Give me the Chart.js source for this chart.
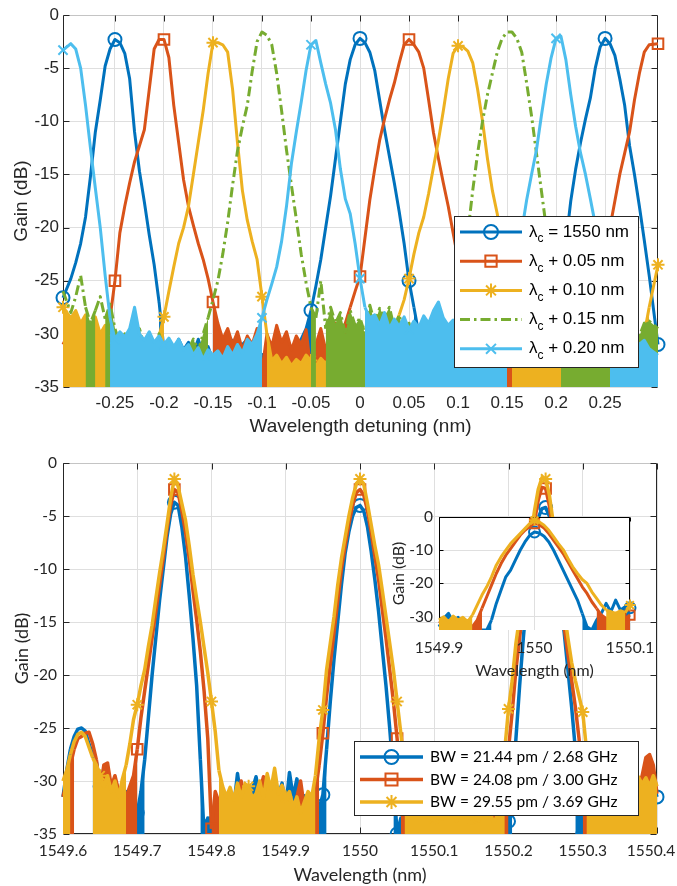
<!DOCTYPE html>
<html>
<head>
<meta charset="utf-8">
<script src="https://cdn.jsdelivr.net/npm/chart.js@4.4.1/dist/chart.umd.min.js"></script>
<style>
  html, body { margin: 0; padding: 0; background: #fff; }
  #wrap { position: relative; width: 677px; height: 886px; overflow: hidden; }
  canvas { position: absolute; }
</style>
</head>
<body>
<div id="wrap">
  <canvas id="topChart" width="677" height="445" style="left:0;top:0"></canvas>
  <canvas id="bottomChart" width="677" height="441" style="left:0;top:445px"></canvas>
  <canvas id="insetChart" width="295" height="190" style="left:380px;top:500px"></canvas>
</div>
<script>
// ---- top panel: gain vs detuning for 5 centre wavelengths ----
const detuning = [
  -0.303, -0.295, -0.29, -0.285, -0.28, -0.275, -0.27, -0.265, -0.26, -0.255,
  -0.25, -0.245, -0.24, -0.235, -0.23, -0.225, -0.22, -0.215, -0.21, -0.205,
  -0.2, -0.195, -0.19, -0.185, -0.18, -0.175, -0.17, -0.165, -0.16, -0.155,
  -0.15, -0.145, -0.14, -0.135, -0.13, -0.125, -0.12, -0.115, -0.11, -0.105,
  -0.1, -0.095, -0.09, -0.085, -0.08, -0.075, -0.07, -0.065, -0.06, -0.055,
  -0.05, -0.045, -0.04, -0.035, -0.03, -0.025, -0.02, -0.015, -0.01, -0.005,
  0, 0.005, 0.01, 0.015, 0.02, 0.025, 0.03, 0.035, 0.04, 0.045,
  0.05, 0.055, 0.06, 0.065, 0.07, 0.075, 0.08, 0.085, 0.09, 0.095,
  0.1, 0.105, 0.11, 0.115, 0.12, 0.125, 0.13, 0.135, 0.14, 0.145,
  0.15, 0.155, 0.16, 0.165, 0.17, 0.175, 0.18, 0.185, 0.19, 0.195,
  0.2, 0.205, 0.21, 0.215, 0.22, 0.225, 0.23, 0.235, 0.24, 0.245,
  0.25, 0.255, 0.26, 0.265, 0.27, 0.275, 0.28, 0.285, 0.29, 0.295,
  0.304
];
const gain1550 = [
  -26.6, -24.8, -23.3, -21.5, -19, -15.2, -11, -8, -4.8, -3.2,
  -2.3, -2.6, -3.6, -6, -11, -14.7, -17.6, -20.7, -23.5, -27,
  -31.5, -31, -32, -30.5, -31.5, -30.8, -31.8, -30.5, -32, -31.2,
  -32.5, -31, -30.5, -31.8, -30.6, -32, -31, -30.5, -31.5, -30.8,
  -32.5, -31.2, -32, -30.8, -31.5, -30.5, -32, -31, -30.5, -29.5,
  -27.8, -25.5, -23, -20, -17, -13.5, -10, -6.5, -4.2, -2.8,
  -2.2, -2.6, -3.5, -5.2, -8, -10.8, -13.3, -15.8, -18.5, -21.5,
  -25, -27.5, -30, -31.5, -32, -31, -32.5, -31.8, -32.2, -31.4,
  -32.6, -31.5, -32.3, -31.2, -32, -31.6, -32.8, -31.4, -32.2, -31.8,
  -32.8, -31.8, -32.5, -31.2, -32, -31.5, -32.4, -31, -30.5, -29.5,
  -27.5, -25, -21.5, -17.5, -14.5, -12, -9.8, -7.8, -5, -3,
  -2.2, -2.7, -3.8, -6, -8.5, -12.3, -15, -18, -21.2, -24.5,
  -31
];
const gainPlus005 = [
  -31, -29.5, -31.5, -30, -31, -30.5, -32, -30.8, -29.8, -28.5,
  -25, -20.5, -18, -15.8, -13.8, -12.3, -10.8, -7, -3.2, -2.3,
  -2.3, -4, -8.5, -12, -15.5, -18, -19.8, -21.5, -23, -24.8,
  -27, -29, -30.5, -29.5, -31, -29.8, -31.5, -30.2, -31, -29.5,
  -33.5, -30, -31.2, -29.2, -30.8, -29.8, -31.5, -30.2, -31, -29.6,
  -33.5, -31, -29.5, -31.5, -30, -29, -30.5, -29, -27.5, -26,
  -24.6, -21, -17.4, -14.5, -11.8, -9.8, -8, -6.4, -4.5, -2.8,
  -2.3, -2.8, -3.5, -5, -8, -11.1, -13.5, -15.8, -18, -20.5,
  -23, -26, -28.5, -30, -31.2, -29.8, -30.6, -31.5, -30.2, -31,
  -29.6, -31.2, -30.4, -31.6, -30, -31, -30.5, -31.8, -30.2, -31.4,
  -30.8, -31.6, -30.4, -31, -29.8, -31.2, -30.5, -28.5, -27, -25.5,
  -23.5, -20, -17.5, -15, -13, -11, -8, -5.5, -3.5, -2.8,
  -2.7
];
const gainPlus010 = [
  -27.5, -28.5, -27.8, -29, -28.2, -29.5, -28.4, -30, -29.2, -30.5,
  -32, -31.5, -32, -31.6, -32.4, -31.8, -32.6, -31.5, -31, -30.2,
  -28.4, -26, -23.7, -21.5, -20, -18, -15, -12, -9, -5.5,
  -2.6, -2.6, -2.8, -3.5, -7, -12, -16.5, -19.3, -21.3, -23,
  -26.5, -30, -32.5, -32, -32.8, -32.2, -33, -32.4, -32.8, -32,
  -32.5, -33, -32.3, -32.8, -32, -32.6, -31.8, -32.4, -31.5, -32,
  -31, -32.5, -31.8, -32.4, -31.5, -31, -30.5, -29.5, -28.2, -26.8,
  -24.8, -22.5, -20.5, -19, -16.8, -14.3, -11.8, -9, -6, -3.6,
  -2.9, -3, -3.4, -4.5, -7, -10, -13.5, -16.5, -18.7, -21.5,
  -24.5, -27.5, -29.5, -30.5, -31.8, -30.2, -31.4, -30.6, -32, -30.8,
  -31.5, -30.3, -31.2, -30, -31.6, -30.6, -31.8, -30.9, -31.4, -30.2,
  -31, -30.6, -31.8, -30.4, -31.2, -30, -31, -30.4, -30, -27.5,
  -23.5
];
const gainPlus015 = [
  -26, -28, -26.5, -24.5, -27.5, -29, -27.8, -26.5, -28.6, -27.2,
  -29.5, -31, -30, -31.5, -30.8, -29.5, -31.2, -30.5, -31.5, -30,
  -31.5, -31.8, -32, -31.2, -32.2, -31.5, -30.5, -31.6, -30, -28.5,
  -26.8, -25, -22.5, -19.5, -16, -12.8, -10.5, -8.5, -5.3, -2.5,
  -1.6, -1.9, -2.8, -5.5, -9, -12.7, -16, -19.2, -22.5, -25.2,
  -27.5, -28.5, -25, -29.5, -27.5, -29, -28, -30, -27.8, -29.2,
  -28.5, -30, -27.3, -29, -27.6, -28.4, -27.5, -29.5, -28.2, -30.2,
  -29, -30.5, -29.5, -31, -30.2, -30.8, -29.5, -31, -30.4, -31.2,
  -28, -25, -20.5, -16.5, -13, -10, -7.5, -5.5, -3.5, -2.2,
  -1.6, -1.6, -2.2, -3.5, -6.4, -9.5, -13, -16.5, -20, -23,
  -26, -28.5, -30, -31.2, -30.4, -31.6, -30.8, -32, -31, -31.6,
  -30.5, -31.2, -30.4, -30.9, -29.8, -30.6, -29.5, -30.2, -29, -28.8,
  -29.5
];
const gainPlus020 = [
  -3.3, -2.7, -3.2, -5, -8.5, -12.5, -16.3, -20, -24.5, -28.5,
  -30.5, -29.8, -30.3, -29.5, -27.5, -30, -30.6, -29.8, -30.8, -30.2,
  -31, -30.4, -31.2, -30.5, -31.5, -31, -32, -31.3, -32.4, -31.5,
  -32, -31.6, -32.3, -31.2, -32, -31, -31.8, -30.5, -31, -30,
  -28.5, -26.8, -25.3, -23.7, -21.3, -18, -14, -11, -8.2, -5.2,
  -2.8, -2.4, -4.5, -6.5, -8.3, -10.8, -14.5, -17.3, -18.7, -21.5,
  -24.8, -27.5, -28.5, -28.2, -29.2, -28, -29.5, -28.6, -29.3, -28.4,
  -29.6, -28.8, -29.4, -28.3, -29, -27.8, -27, -28.5, -29.2, -28.7,
  -29.5, -28.6, -29.8, -29, -30.2, -29.4, -30, -29.5, -30, -29,
  -27.5, -25.5, -23, -20.3, -17.4, -15, -12.7, -9.5, -6.5, -4,
  -2.2, -2, -4.2, -7.5, -10.5, -13, -15, -17.3, -19.7, -23,
  -26.5, -29.5, -30.5, -31, -30.2, -30.8, -30.4, -31, -30.6, -31.4,
  -32
];
const topLabels = [' = 1550 nm', ' + 0.05 nm', ' + 0.10 nm', ' + 0.15 nm', ' + 0.20 nm'];

// ---- bottom panel: three bandwidths ----
const wavelength = [
  1549.600, 1549.605, 1549.610, 1549.615, 1549.620, 1549.625, 1549.630, 1549.635, 1549.640, 1549.645,
  1549.650, 1549.655, 1549.660, 1549.665, 1549.670, 1549.675, 1549.680, 1549.685, 1549.690, 1549.695,
  1549.700, 1549.705, 1549.710, 1549.715, 1549.720, 1549.725, 1549.730, 1549.735, 1549.740, 1549.745,
  1549.750, 1549.755, 1549.760, 1549.765, 1549.770, 1549.775, 1549.780, 1549.785, 1549.790, 1549.795,
  1549.800, 1549.805, 1549.810, 1549.815, 1549.820, 1549.825, 1549.830, 1549.835, 1549.840, 1549.845,
  1549.850, 1549.855, 1549.860, 1549.865, 1549.870, 1549.875, 1549.880, 1549.885, 1549.890, 1549.895,
  1549.900, 1549.905, 1549.910, 1549.915, 1549.920, 1549.925, 1549.930, 1549.935, 1549.940, 1549.945,
  1549.950, 1549.955, 1549.960, 1549.965, 1549.970, 1549.975, 1549.980, 1549.985, 1549.990, 1549.995,
  1550.000, 1550.005, 1550.010, 1550.015, 1550.020, 1550.025, 1550.030, 1550.035, 1550.040, 1550.045,
  1550.050, 1550.055, 1550.060, 1550.065, 1550.070, 1550.075, 1550.080, 1550.085, 1550.090, 1550.095,
  1550.100, 1550.105, 1550.110, 1550.115, 1550.120, 1550.125, 1550.130, 1550.135, 1550.140, 1550.145,
  1550.150, 1550.155, 1550.160, 1550.165, 1550.170, 1550.175, 1550.180, 1550.185, 1550.190, 1550.195,
  1550.200, 1550.205, 1550.210, 1550.215, 1550.220, 1550.225, 1550.230, 1550.235, 1550.240, 1550.245,
  1550.250, 1550.255, 1550.260, 1550.265, 1550.270, 1550.275, 1550.280, 1550.285, 1550.290, 1550.295,
  1550.300, 1550.305, 1550.310, 1550.315, 1550.320, 1550.325, 1550.330, 1550.335, 1550.340, 1550.345,
  1550.350, 1550.355, 1550.360, 1550.365, 1550.370, 1550.375, 1550.380, 1550.385, 1550.390, 1550.395,
  1550.400
];
const gainBw2144 = [
  -31.5, -29, -27, -25.8, -25.1, -25, -25.3, -26.5, -27.5, -28.2,
  -30.5, -28.8, -29, -30.5, -29.8, -31, -32, -31, -32.5, -34,
  -33, -31, -28, -24, -20, -16.5, -13, -10, -7, -4.8,
  -3.7, -4, -6, -8.8, -12.5, -16.5, -21, -28, -35, -33.5,
  -34, -32.5, -33, -32, -32.6, -31.5, -32.4, -29.3, -31.8, -32,
  -32.4, -30.8, -29.6, -31.5, -32, -30.5, -31.6, -30, -31.4, -30.2,
  -32.5, -29.2, -31.5, -29.8, -32, -31.4, -32.5, -33, -33.5, -32.6,
  -31.3, -27, -22.5, -18.5, -15, -11.5, -8.5, -6.5, -5, -4.2,
  -4, -4.5, -6, -8.3, -11, -14, -17.5, -21, -25, -29.5,
  -35, -33.5, -34, -33, -34.2, -33.4, -34, -33.2, -34.5, -33.6,
  -34.5, -33.8, -34.4, -33.2, -34, -33.5, -34.6, -33.4, -34.2, -33.6,
  -34.8, -33.5, -34.2, -33.6, -34, -33.2, -34.5, -33.8, -34, -33.5,
  -33.8, -31, -26, -21, -16.5, -12.5, -9.3, -6.8, -5.2, -4.3,
  -4.2, -5, -7, -10, -13, -16, -19.5, -23, -27, -31,
  -35, -33.5, -33, -32, -33.2, -32.5, -33.6, -32.4, -33, -32.2,
  -33.4, -32, -32.8, -31.6, -32.4, -31, -30.5, -30, -28.8, -30.2,
  -31.5
];
const gainBw2408 = [
  -31.5, -30, -28.5, -27, -26, -25.8, -25.5, -25.4, -26.5, -28,
  -31, -28.5, -28.3, -30.5, -29.5, -31, -32, -31.5, -30.5, -29.5,
  -27, -24, -21.5, -19, -16.5, -14, -11.5, -9, -6.3, -4,
  -2.5, -2.8, -4.5, -6.5, -9, -12, -14.8, -17.8, -21.5, -26,
  -34.5, -31, -32, -31.5, -32.5, -31.2, -32, -31.5, -30, -32,
  -32.5, -31.5, -32.2, -31, -29.6, -31.5, -32, -30.8, -32.2, -31.6,
  -32.5, -31.8, -32.6, -31.5, -30, -32.5, -33, -33, -31, -28.5,
  -25.5, -22, -19, -16, -13, -10, -7.8, -5.8, -4, -2.8,
  -2.5, -3, -4.5, -6.5, -8.8, -11, -13.8, -16.5, -19.5, -22.5,
  -26, -30.5, -33, -32, -33.5, -32.6, -33.8, -32.8, -33.5, -32.6,
  -34, -33, -33.7, -32.8, -33.5, -32.6, -33.3, -32.4, -33.6, -32.7,
  -34, -33, -33.5, -32.6, -33.4, -32.5, -33, -31, -27, -29,
  -27, -23.5, -19.5, -16.5, -13.5, -10.5, -8, -5.5, -3.5, -2.3,
  -2.4, -4, -6.8, -9.8, -12.8, -15.5, -18, -20.5, -23, -26,
  -30, -33, -32, -32.8, -31.5, -32.4, -31.6, -32.5, -31.2, -32,
  -32.6, -31.5, -32.2, -31, -31.8, -30.5, -29.5, -27.8, -27.5, -28.5,
  -31.2
];
const gainBw2955 = [
  -30, -29, -27.5, -26.3, -25.6, -25.4, -25.8, -26.8, -27.8, -28.5,
  -29.5, -30.5, -29.5, -31, -30, -31.5, -29.8, -28.5, -26.5, -24.2,
  -22.8, -21, -19.5, -17.3, -15.3, -12.8, -10.4, -8.2, -5.8, -3.3,
  -1.5, -2.2, -3.8, -5.4, -7.8, -10.5, -12.8, -15, -17.4, -19.8,
  -22.5, -25.3, -29, -30.5, -31.5, -30.6, -31.8, -30.2, -31.5, -30.3,
  -30.5, -31.6, -31.2, -30, -31.6, -29.3, -30.8, -28.8, -31.2, -30.4,
  -31.5, -31, -32.5, -31.5, -33, -32, -31, -31.5, -29.5, -26,
  -23.3, -19.5, -17, -14.5, -11.5, -9, -7, -5, -3.3, -2,
  -1.5, -2, -3.8, -5.8, -7.8, -9.6, -12, -14.5, -17, -19.5,
  -22.5, -25.5, -29, -31, -32.5, -31.8, -33, -32.2, -33.4, -32.6,
  -33.5, -32.8, -33.6, -32.4, -33.2, -32.7, -33.8, -32.5, -33.4, -32.9,
  -33.5, -33, -33.8, -32.6, -33.5, -32.8, -34, -33.2, -31, -27,
  -23.2, -20.5, -17, -14.5, -12, -9.5, -7, -4.5, -2.5, -1.4,
  -1.5, -3, -5.5, -8.5, -11.5, -14, -16.5, -18.8, -20.5, -22,
  -23.5, -27, -30, -30.5, -31.2, -30.3, -31, -30, -31.5, -30.4,
  -31, -30, -30.8, -29.8, -30.5, -29.6, -30.3, -29.7, -30.5, -29.5,
  -30.5
];
const bottomLabels = ['BW = 21.44 pm / 2.68 GHz', 'BW = 24.08 pm / 3.00 GHz', 'BW = 29.55 pm / 3.69 GHz'];

// ---- inset: zoom around 1550 nm ----
const insetWavelength = [
  1549.900, 1549.905, 1549.910, 1549.915, 1549.920, 1549.925, 1549.930, 1549.935, 1549.940, 1549.945,
  1549.950, 1549.955, 1549.960, 1549.965, 1549.970, 1549.975, 1549.980, 1549.985, 1549.990, 1549.995,
  1550.000, 1550.005, 1550.010, 1550.015, 1550.020, 1550.025, 1550.030, 1550.035, 1550.040, 1550.045,
  1550.050, 1550.055, 1550.060, 1550.065, 1550.070, 1550.075, 1550.080, 1550.085, 1550.090, 1550.095,
  1550.100
];
const insetBw2144 = [
  -33, -30.5, -29, -31.5, -30.2, -32, -33, -33.5, -34, -34,
  -34, -31, -26, -22, -18, -16, -13, -10, -7.5, -5.5,
  -4.5, -4.8, -5.8, -7.5, -10, -13, -16, -19, -22, -25,
  -29, -33, -34, -31, -29, -26, -28.5, -25, -28, -27,
  -27.3
];
const insetBw2408 = [
  -32, -31, -32.5, -31.2, -32, -31, -32.5, -33, -31, -27.5,
  -24, -20.5, -17, -14, -11.5, -9.5, -7.5, -5.5, -4, -2.8,
  -2, -2.3, -3.3, -5, -7, -9, -11, -13.5, -16, -18.5,
  -21, -23, -25.5, -27.5, -29.5, -30.5, -31.5, -30, -31.8, -30.5,
  -29.5
];
const insetBw2955 = [
  -31, -30, -31.5, -29.8, -31, -30.2, -31.5, -29.5, -26.5, -23.5,
  -21, -18, -14.5, -12, -10, -8, -6.5, -5, -3.5, -2,
  -1, -1.5, -2.5, -4, -6, -8, -9.8, -12.5, -15, -17,
  -18.8, -20, -22.5, -24.5, -26.5, -28, -28.5, -29, -28.2, -28.8,
  -26.5
];

const COLORS = ['#0072BD', '#D95319', '#EDB120', '#77AC30', '#4DBEEE'];
const SANS = '"Liberation Sans", Arial, sans-serif';
const CAL = 'Lato, "Open Sans", sans-serif';
const INK = '#262626';
const GRID = '#dfdfdf';
const FLOOR_DB = -26.8;   // below this the noisy trace is drawn as a solid band

Chart.defaults.font.family = SANS;
Chart.defaults.animation = false;

// marker on every n-th sample, except the listed indices
const markEvery = (n, r, skip) => c => (c.dataIndex % n === 0 && !(skip || []).includes(c.dataIndex) ? r : 0);

function trace(xs, ys, color, extra) {
  return Object.assign({
    data: xs.map((x, i) => ({ x: x, y: ys[i] })),
    borderColor: color,
    backgroundColor: color,
    borderWidth: 3,
    borderJoinStyle: 'round',
    pointRadius: 0,
    pointHoverRadius: 0,
    pointBorderWidth: 2,
    pointBorderColor: color,
    pointBackgroundColor: 'rgba(0,0,0,0)',
    tension: 0,
    clip: { left: 10, right: 10, top: 2, bottom: 0 },
    fill: 'start',
    segment: {
      backgroundColor: c => (c.p0.parsed.y < FLOOR_DB && c.p1.parsed.y < FLOOR_DB ? color : 'rgba(0,0,0,0)')
    }
  }, extra);
}

// fix axis boxes so the plot area lands where the figure has it
const pin = (w, h) => s => {
  if (w != null) s.width = w;
  if (h != null) s.height = h;
  s.paddingLeft = 0; s.paddingRight = 0; s.paddingTop = 0; s.paddingBottom = 0;
};

// axes box with inward ticks, drawn under the data like MATLAB
const frame = {
  id: 'frame',
  beforeDraw(chart, args, o) {
    if (!o.plotFill) return;
    const a = chart.chartArea, ctx = chart.ctx;
    ctx.save();
    ctx.fillStyle = o.plotFill;
    ctx.fillRect(a.left, a.top, a.right - a.left, a.bottom - a.top);
    ctx.restore();
  },
  beforeDatasetsDraw(chart, args, o) {
    const { ctx, chartArea: a, scales } = chart;
    const L = Math.round(a.left) + 0.5, R = Math.round(a.right) - 0.5;
    const T = Math.round(a.top) + 0.5, B = Math.round(a.bottom) - 0.5;
    const tl = o.tick || 6;
    ctx.save();
    ctx.lineWidth = 1;
    const seg = (x1, y1, x2, y2, c) => {
      ctx.strokeStyle = c; ctx.beginPath(); ctx.moveTo(x1, y1); ctx.lineTo(x2, y2); ctx.stroke();
    };
    if (o.top) seg(L, T, R, T, o.top);
    if (o.right) seg(R, T, R, B, o.right);
    if (o.left) seg(L, T, L, B, o.left);
    if (o.bottom) seg(L, B, R, B, o.bottom);
    scales.y.ticks.forEach(t => {
      if (t.label == null) return;
      const py = Math.round(scales.y.getPixelForValue(t.value)) + 0.5;
      seg(L, py, L + tl, py, o.tickColor);
      seg(R, py, R - tl, py, o.tickColor);
    });
    scales.x.ticks.forEach(t => {
      if (t.label == null) return;
      const px = Math.round(scales.x.getPixelForValue(t.value)) + 0.5;
      if (o.bottom) seg(px, B, px, B - tl, o.tickColor);
      seg(px, T, px, T + tl, o.tickColor);
    });
    ctx.restore();
  }
};

// boxed legend with MATLAB-like samples (line + marker) and optional subscript
const boxLegend = {
  id: 'boxLegend',
  afterDatasetsDraw(chart, args, o) {
    if (!o.items) return;
    const ctx = chart.ctx;
    ctx.save();
    ctx.fillStyle = '#fff';
    ctx.fillRect(o.x, o.y, o.w, o.h);
    ctx.strokeStyle = INK;
    ctx.lineWidth = 1;
    ctx.strokeRect(o.x + 0.5, o.y + 0.5, o.w - 1, o.h - 1);
    o.items.forEach((it, i) => {
      const ds = chart.data.datasets[i];
      const cy = o.y + o.first + i * o.rowH;
      ctx.strokeStyle = ds.borderColor;
      ctx.lineWidth = ds.borderWidth;
      ctx.setLineDash(ds.borderDash || []);
      ctx.beginPath(); ctx.moveTo(o.x0, cy); ctx.lineTo(o.x1, cy); ctx.stroke();
      ctx.setLineDash([]);
      if (it.marker) {
        ctx.fillStyle = 'rgba(0,0,0,0)';
        ctx.lineWidth = 2;
        Chart.helpers.drawPoint(ctx, { pointStyle: it.marker, radius: it.r, borderWidth: 2, rotation: 0 }, (o.x0 + o.x1) / 2, cy);
      }
      ctx.fillStyle = '#000';
      ctx.textBaseline = 'middle';
      ctx.font = o.font;
      let tx = o.tx;
      if (it.sym) {
        ctx.fillText(it.sym, tx, cy);
        tx += ctx.measureText(it.sym).width;
        ctx.font = o.subFont;
        ctx.fillText(it.sub, tx, cy + o.subDy);
        tx += ctx.measureText(it.sub).width;
        ctx.font = o.font;
      }
      ctx.fillText(it.text, tx, cy);
    });
    ctx.restore();
  }
};

const baseOpts = {
  responsive: false,
  animation: false,
  events: []
};

// ---------- top chart ----------
const topMarkers = ['circle', 'rect', 'star', null, 'crossRot'];
const topRadius = [6.5, 7.5, 6.5, 0, 6.5];
const topSkip = [[], [0, 80], [], [], [120]];
const topSeries = [gain1550, gainPlus005, gainPlus010, gainPlus015, gainPlus020];

new Chart('topChart', {
  type: 'line',
  data: {
    datasets: topSeries.map((ys, i) => trace(detuning, ys, COLORS[i], {
      order: 5 - i,
      pointStyle: topMarkers[i] || 'circle',
      pointRadius: topMarkers[i] ? markEvery(10, topRadius[i], topSkip[i]) : 0,
      borderDash: i === 3 ? [10, 4, 2.5, 4] : []
    }))
  },
  options: Object.assign({}, baseOpts, {
    layout: { padding: { left: 0, top: 15, right: 19, bottom: 0 } },
    plugins: {
      legend: { display: false },
      tooltip: { enabled: false },
      frame: { top: '#c4c4c4', right: INK, left: INK, bottom: INK, tickColor: INK, tick: 6 },
      boxLegend: {
        x: 454, y: 216, w: 185, h: 152, first: 16, rowH: 29.2,
        x0: 460, x1: 522, tx: 529,
        font: '17px ' + SANS, subFont: '12px ' + SANS, subDy: 7,
        items: topLabels.map((t, i) => ({ sym: 'λ', sub: 'c', text: t, marker: topMarkers[i], r: i === 1 ? 8 : 7 }))
      }
    },
    scales: {
      x: {
        type: 'linear', min: -0.303, max: 0.304,
        ticks: {
          stepSize: 0.05, includeBounds: false, autoSkip: false, maxRotation: 0, minRotation: 0,
          padding: 6, color: INK, font: { family: SANS, size: 17 },
          callback: v => (Math.abs(v) > 0.26 ? null : String(+v.toFixed(2)))
        },
        grid: { color: GRID, drawTicks: false },
        border: { display: false },
        title: { display: true, text: 'Wavelength detuning (nm)', color: INK, font: { family: SANS, size: 19 }, padding: { top: 0, bottom: 7 } },
        afterFit: pin(null, 58)
      },
      y: {
        min: -35, max: 0,
        ticks: { stepSize: 5, padding: 4, color: INK, font: { family: SANS, size: 17 }, callback: v => String(v) },
        grid: { color: GRID, drawTicks: false },
        border: { display: false },
        title: { display: true, text: 'Gain (dB)', color: INK, font: { family: SANS, size: 19 }, padding: { top: 10, bottom: 0 } },
        afterFit: pin(63, null)
      }
    }
  }),
  plugins: [frame, boxLegend]
});

// ---------- bottom chart ----------
const bwMarkers = ['circle', 'rect', 'star'];
const bwSkip = [[0], [0, 160], [0, 160]];
const bwSeries = [gainBw2144, gainBw2408, gainBw2955];

new Chart('bottomChart', {
  type: 'line',
  data: {
    datasets: bwSeries.map((ys, i) => trace(wavelength, ys, COLORS[i], {
      order: 3 - i,
      borderWidth: 3.5,
      pointStyle: bwMarkers[i],
      pointRadius: markEvery(10, i === 1 ? 7.5 : 6.5, bwSkip[i])
    }))
  },
  options: Object.assign({}, baseOpts, {
    layout: { padding: { left: 0, top: 18, right: 20, bottom: 0 } },
    plugins: {
      legend: { display: false },
      tooltip: { enabled: false },
      frame: { top: '#c4c4c4', right: INK, left: INK, bottom: INK, tickColor: INK, tick: 6 },
      boxLegend: {
        x: 354, y: 296, w: 285, h: 75, first: 16, rowH: 22.5,
        x0: 360, x1: 423, tx: 430,
        font: '15.5px ' + CAL,
        items: bottomLabels.map((t, i) => ({ text: t, marker: bwMarkers[i], r: i === 1 ? 8.5 : 7 }))
      }
    },
    scales: {
      x: {
        type: 'linear', min: 1549.6, max: 1550.4,
        ticks: {
          stepSize: 0.1, autoSkip: false, maxRotation: 0, minRotation: 0,
          padding: 8, color: INK, font: { family: CAL, size: 15.5 },
          // trailing spaces nudge the last label back inside the figure, as in the original
          callback: v => String(+v.toFixed(1)) + (v > 1550.39 ? '   ' : '')
        },
        grid: { color: GRID, drawTicks: false },
        border: { display: false },
        title: { display: true, text: 'Wavelength (nm)', color: INK, font: { family: CAL, size: 18 }, padding: { top: 0, bottom: 0 } },
        afterFit: pin(null, 52)
      },
      y: {
        min: -35, max: 0,
        ticks: { stepSize: 5, padding: 6, color: INK, font: { family: CAL, size: 15.5 }, callback: v => String(v) },
        grid: { color: GRID, drawTicks: false },
        border: { display: false },
        title: { display: true, text: 'Gain (dB)', color: INK, font: { family: CAL, size: 18 }, padding: { top: 11, bottom: 0 } },
        afterFit: pin(63, null)
      }
    }
  }),
  plugins: [frame, boxLegend]
});

// ---------- inset ----------
const insetSeries = [insetBw2144, insetBw2408, insetBw2955];

new Chart('insetChart', {
  type: 'line',
  data: {
    datasets: insetSeries.map((ys, i) => trace(insetWavelength, ys, COLORS[i], {
      order: 3 - i,
      borderWidth: 3,
      pointStyle: bwMarkers[i],
      pointRadius: markEvery(20, i === 1 ? 6.5 : 5.5, [0])
    }))
  },
  options: Object.assign({}, baseOpts, {
    layout: { padding: { left: 0, top: 17, right: 45, bottom: 0 } },
    plugins: {
      legend: { display: false },
      tooltip: { enabled: false },
      frame: { plotFill: '#fff', top: '#000', right: '#000', left: '#000', tickColor: '#000', tick: 4 }
    },
    scales: {
      x: {
        type: 'linear', min: 1549.9, max: 1550.1,
        ticks: {
          stepSize: 0.1, autoSkip: false, maxRotation: 0, minRotation: 0,
          padding: 9, color: INK, font: { family: CAL, size: 15.5 },
          callback: v => String(+v.toFixed(1))
        },
        grid: { color: GRID, drawTicks: false },
        border: { display: false },
        title: { display: true, text: 'Wavelength (nm)', color: INK, font: { family: CAL, size: 16 }, padding: { top: 0, bottom: 10 } },
        afterFit: pin(null, 60)
      },
      y: {
        min: -34, max: 0,
        ticks: { stepSize: 10, includeBounds: false, padding: 6, color: INK, font: { family: CAL, size: 15.5 }, callback: v => (v % 10 === 0 ? String(v) : null) },
        grid: { color: GRID, drawTicks: false },
        border: { display: false },
        title: { display: true, text: 'Gain (dB)', color: INK, font: { family: CAL, size: 16 }, padding: { top: 9, bottom: 0 } },
        afterFit: pin(59, null)
      }
    }
  }),
  plugins: [frame]
});
</script>
</body>
</html>
